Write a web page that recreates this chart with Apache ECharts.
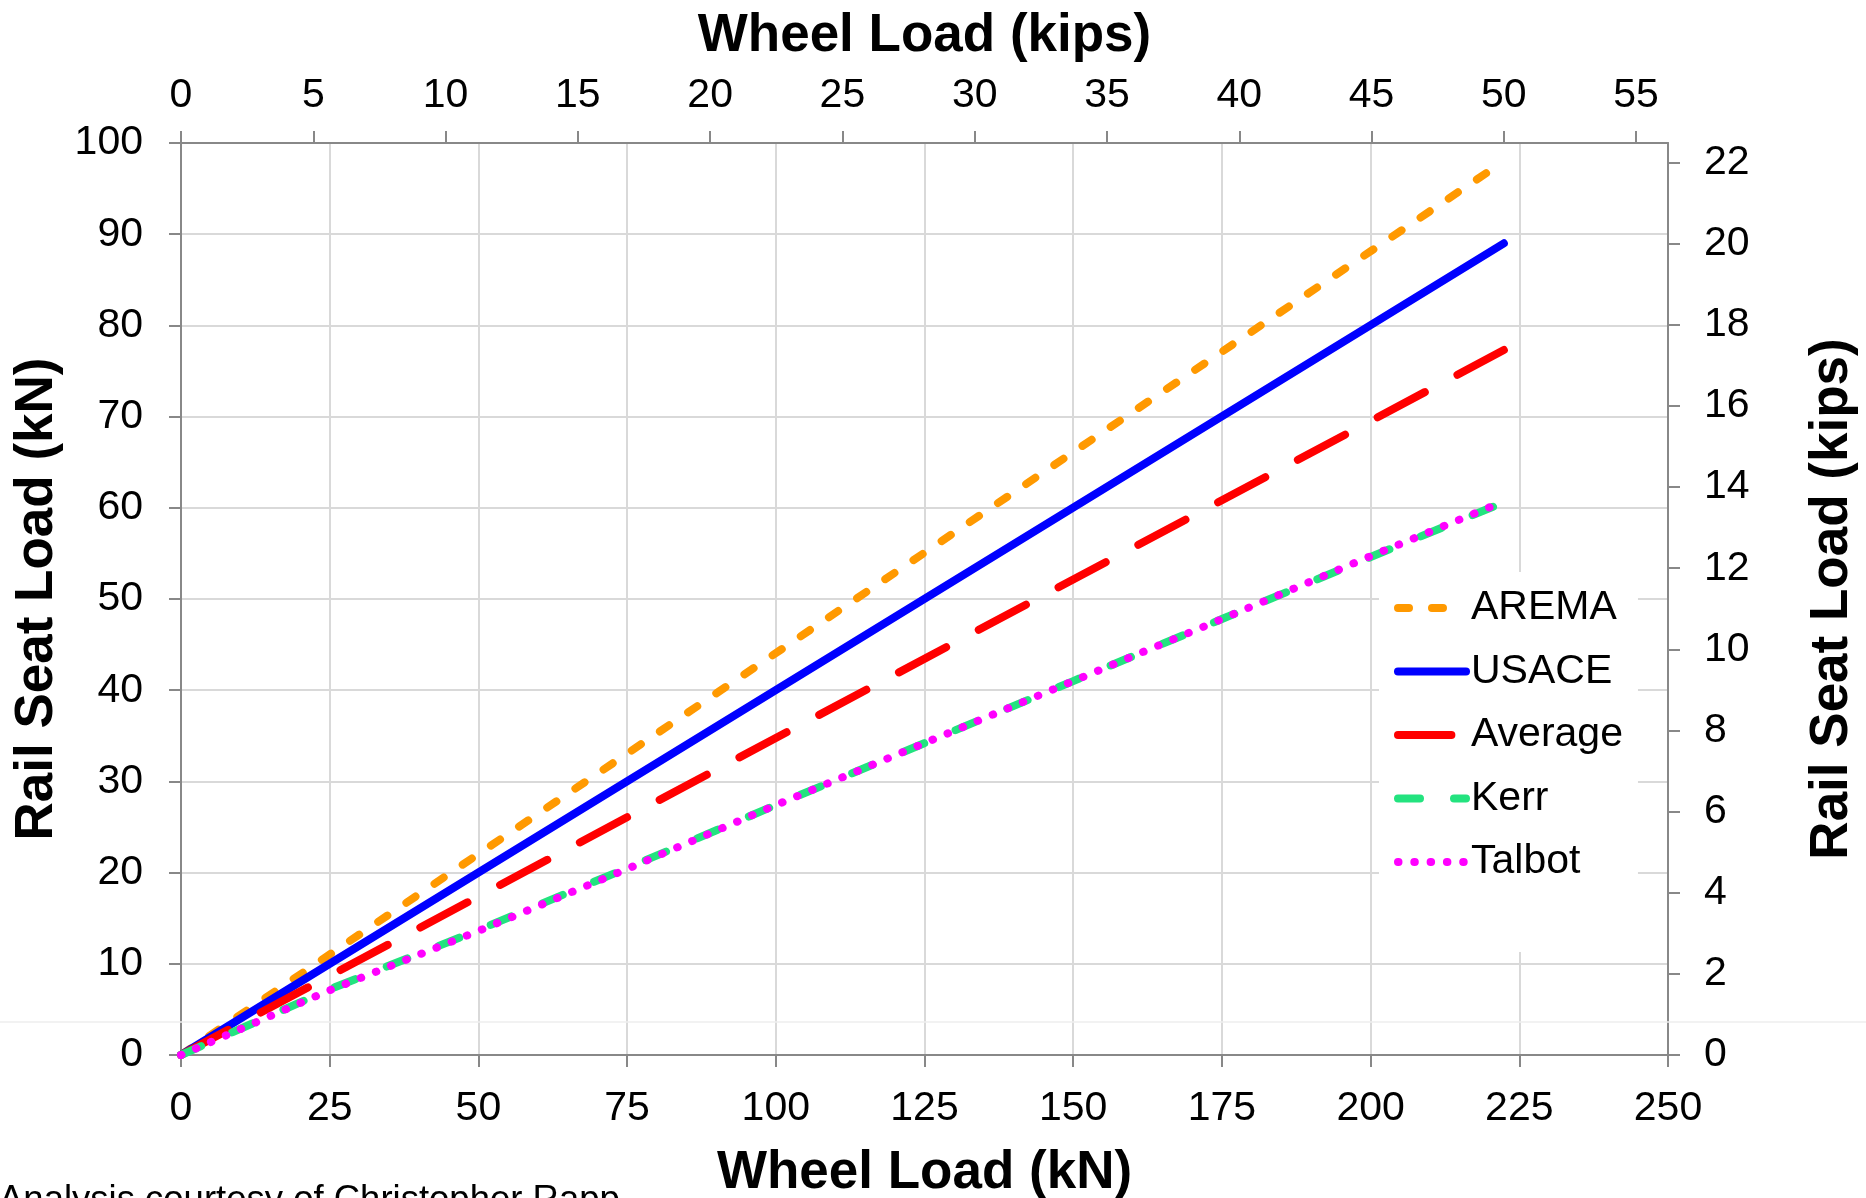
<!DOCTYPE html>
<html>
<head>
<meta charset="utf-8">
<script src="https://cdn.jsdelivr.net/npm/echarts@6/dist/echarts.min.js"></script>
<style>
html,body{margin:0;padding:0;background:#fff;}
#chart{width:1866px;height:1198px;}
</style>
</head>
<body>
<div id="chart"></div>
<script>
// Wheel load (kN) sample points
var wheelLoadKN = [0, 222.4];
var aremaKN = [0, 98.0];
var usaceKN = [0, 89.0];
var averageKN = [0, 77.3];
var kerrX = [0, 25, 50, 75, 100, 125, 150, 175, 200, 222.4];
var kerrKN = [0, 7.2, 13.7, 20.5, 27.4, 34.2, 41.0, 47.8, 54.6, 60.6];
var talbotX = [0, 25, 50, 75, 100, 125, 150, 175, 200, 222.4];
var talbotKN = [0, 7.1, 13.6, 20.4, 27.4, 34.2, 41.0, 47.8, 54.7, 60.7];

var seriesNames = ['AREMA', 'USACE', 'Average', 'Kerr', 'Talbot'];
var bottomTicksKN = [0, 25, 50, 75, 100, 125, 150, 175, 200, 225, 250];
var leftTicksKN = [0, 10, 20, 30, 40, 50, 60, 70, 80, 90, 100];
var topTicksKips = [0, 5, 10, 15, 20, 25, 30, 35, 40, 45, 50, 55];
var rightTicksKips = [0, 2, 4, 6, 8, 10, 12, 14, 16, 18, 20, 22];
var KN_PER_KIP = 4.448;

function pairs(xs, ys) { return xs.map(function (x, i) { return [x, ys[i]]; }); }

var FONT = "'Liberation Sans', Arial, sans-serif";
var AXIS_COLOR = '#888888';
var GRID_COLOR = '#d9d9d9';
var LINE_W = 8;

var chart = echarts.init(document.getElementById('chart'), null, {renderer: 'canvas'});

function lineSeries(name, data, color, dash) {
  return {
    name: name, type: 'line', data: data,
    xAxisIndex: 0, yAxisIndex: 0,
    symbol: 'none', showSymbol: false,
    lineStyle: {color: color, width: LINE_W, type: dash, cap: 'round', join: 'round'},
    itemStyle: {color: color, opacity: 0},
    emphasis: {disabled: true},
    z: 3
  };
}

var option = {
  animation: false,
  backgroundColor: '#ffffff',
  textStyle: {fontFamily: FONT},
  grid: {left: 181, right: 198, top: 143, bottom: 143, containLabel: false,
         outerBoundsMode: 'none'},
  legend: {
    orient: 'vertical',
    left: 1379, top: 572,
    padding: [11, 15, 65, 15],
    backgroundColor: '#ffffff',
    itemWidth: 68, itemHeight: 20, itemGap: 13.5,
    itemStyle: {opacity: 0},
    lineStyle: {width: LINE_W, cap: 'round'},
    textStyle: {fontSize: 41, color: '#000', fontFamily: FONT, lineHeight: 50},
    data: seriesNames,
    z: 10
  },
  xAxis: [
    {
      type: 'value', position: 'bottom', min: 0, max: 250, interval: 25,
      name: 'Wheel Load (kN)', nameLocation: 'middle', nameGap: 92,
      nameTextStyle: {fontSize: 53, fontWeight: 'bold', color: '#000', fontFamily: FONT},
      axisLine: {show: true, onZero: false, lineStyle: {color: AXIS_COLOR, width: 2}},
      axisTick: {show: true, length: 12, lineStyle: {color: AXIS_COLOR, width: 2}},
      axisLabel: {fontSize: 41, color: '#000', margin: 33, fontFamily: FONT,
                  customValues: bottomTicksKN},
      splitLine: {show: true, lineStyle: {color: GRID_COLOR, width: 2}}
    },
    {
      type: 'value', position: 'top', min: 0, max: 250 / KN_PER_KIP,
      name: 'Wheel Load (kips)', nameLocation: 'middle', nameGap: 80,
      nameTextStyle: {fontSize: 53, fontWeight: 'bold', color: '#000', fontFamily: FONT},
      axisLine: {show: true, onZero: false, lineStyle: {color: AXIS_COLOR, width: 2}},
      axisTick: {show: true, length: 12, lineStyle: {color: AXIS_COLOR, width: 2},
                 customValues: topTicksKips},
      axisLabel: {fontSize: 41, color: '#000', margin: 27, fontFamily: FONT,
                  customValues: topTicksKips},
      splitLine: {show: false}
    }
  ],
  yAxis: [
    {
      type: 'value', position: 'left', min: 0, max: 100, interval: 10,
      name: 'Rail Seat Load (kN)', nameLocation: 'middle', nameGap: 112, nameRotate: 90,
      nameTextStyle: {fontSize: 53, fontWeight: 'bold', color: '#000', fontFamily: FONT},
      axisLine: {show: true, onZero: false, lineStyle: {color: AXIS_COLOR, width: 2}},
      axisTick: {show: true, length: 12, lineStyle: {color: AXIS_COLOR, width: 2}},
      axisLabel: {fontSize: 41, color: '#000', margin: 38, fontFamily: FONT,
                  customValues: leftTicksKN},
      splitLine: {show: true, lineStyle: {color: GRID_COLOR, width: 2}}
    },
    {
      type: 'value', position: 'right', min: 0, max: 100 / KN_PER_KIP,
      name: 'Rail Seat Load (kips)', nameLocation: 'middle', nameGap: 138, nameRotate: 90,
      nameTextStyle: {fontSize: 53, fontWeight: 'bold', color: '#000', fontFamily: FONT},
      axisLine: {show: true, onZero: false, lineStyle: {color: AXIS_COLOR, width: 2}},
      axisTick: {show: true, length: 12, lineStyle: {color: AXIS_COLOR, width: 2},
                 customValues: rightTicksKips},
      axisLabel: {fontSize: 41, color: '#000', margin: 36, fontFamily: FONT,
                  customValues: rightTicksKips},
      splitLine: {show: false}
    }
  ],
  graphic: [
    {type: 'line', z: 1, silent: true,
     shape: {x1: 0, y1: 1022, x2: 1866, y2: 1022},
     style: {stroke: '#eeeeee', lineWidth: 1.5}},
    {type: 'text', left: -1, top: 1182, z: 20, silent: true,
     style: {text: 'Analysis courtesy of Christopher Rapp', fontSize: 36.5,
             fontFamily: FONT, fill: '#000'}}
  ],
  series: [
    lineSeries('AREMA', pairs(wheelLoadKN, aremaKN), '#ff9900', [11, 23]),
    lineSeries('USACE', pairs(wheelLoadKN, usaceKN), '#0000ff', 'solid'),
    lineSeries('Average', pairs(wheelLoadKN, averageKN), '#ff0000', [53.4, 37]),
    lineSeries('Kerr', pairs(kerrX, kerrKN), '#23e37f', [22, 34]),
    lineSeries('Talbot', pairs(talbotX, talbotKN), '#ff00ff', [0.5, 15.8])
  ]
};
chart.setOption(option);
</script>
</body>
</html>
